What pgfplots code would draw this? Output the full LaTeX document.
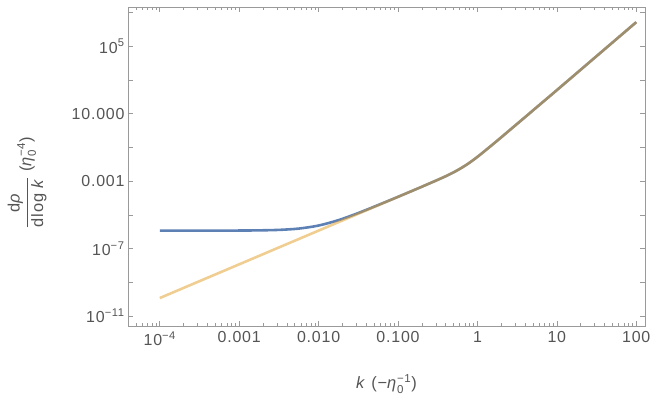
\documentclass[border=0pt]{standalone}
\usepackage{pgfplots}
\pgfplotsset{compat=1.18}
\usepackage{amsmath}
\usepackage{fontspec}
\setmainfont{Liberation Sans}
\newfontfamily\tickfont{Liberation Sans}[LetterSpace=5]
\definecolor{mblue}{HTML}{5E81B5}
\definecolor{morange}{HTML}{E19C24}
\definecolor{framegray}{HTML}{9A9A9A}
\definecolor{labelgray}{HTML}{555555}

% yellow: asymptotic curve, blue: full spectrum
\pgfplotstableread{
k        rho
1e-4     1.17e-10
3.16e-4  1.17e-9
1e-3     1.17e-8
3.16e-3  1.17e-7
1e-2     1.17e-6
3.16e-2  1.17e-5
1e-1     1.17e-4
1.78e-1  3.72e-4
2.37e-1  6.65e-4
3.16e-1  1.20e-3
4.22e-1  2.23e-3
5.62e-1  4.49e-3
7.50e-1  1.03e-2
1        2.77e-2
1.33     8.2e-2
1.78     0.254
2.37     0.796
3.16     2.51
4.22     7.94
5.62     25.1
10       251
31.6     2.6e4
100      2.7e6
}\yellowdata

\pgfplotstableread{
k        rho
1e-4     1.17e-6
3.16e-4  1.17e-6
1e-3     1.18e-6
1.78e-3  1.21e-6
3.16e-3  1.29e-6
5.62e-3  1.54e-6
1e-2     2.34e-6
1.78e-2  4.89e-6
3.16e-2  1.29e-5
5.62e-2  3.84e-5
1e-1     1.18e-4
1.78e-1  3.72e-4
2.37e-1  6.65e-4
3.16e-1  1.20e-3
4.22e-1  2.23e-3
5.62e-1  4.49e-3
7.50e-1  1.03e-2
1        2.77e-2
1.33     8.2e-2
1.78     0.254
2.37     0.796
3.16     2.51
4.22     7.94
5.62     25.1
10       251
31.6     2.6e4
100      2.7e6
}\bluedata

\begin{document}
\begin{tikzpicture}
\begin{axis}[
    name=ax,
    scale only axis,
    width=517bp, height=319bp,
    xmode=log, ymode=log,
    xmin=3.98e-5, xmax=128.8,
    ymin=2.57e-12, ymax=2.14e7,
    xtick={1e-4,1e-3,1e-2,1e-1,1,10,100},
    xticklabels={10\textsuperscript{−4},0.001,0.010,0.100,1,10,100},
    minor xtick={5e-5,6e-5,7e-5,8e-5,9e-5,
        2e-4,3e-4,4e-4,5e-4,6e-4,7e-4,8e-4,9e-4,
        2e-3,3e-3,4e-3,5e-3,6e-3,7e-3,8e-3,9e-3,
        2e-2,3e-2,4e-2,5e-2,6e-2,7e-2,8e-2,9e-2,
        0.2,0.3,0.4,0.5,0.6,0.7,0.8,0.9,
        2,3,4,5,6,7,8,9,
        20,30,40,50,60,70,80,90},
    ytick={1e-11,1e-9,1e-7,1e-5,1e-3,1e-1,1e1,1e3,1e5,1e7},
    yticklabels={10\textsuperscript{−11},,10\textsuperscript{−7},,0.001,,10.000,,10\textsuperscript{5},},
    axis line style={framegray, line width=0.8pt},
    every tick/.style={framegray, line width=0.7pt},
    major tick length=5bp, minor tick length=3bp,
    tick label style={font=\tickfont\fontsize{16}{18}\selectfont, text=labelgray},
    xticklabel style={yshift=-2bp},
    label style={font=\tickfont\fontsize{16.5}{19}\selectfont, text=labelgray},
    xlabel={\textit{k} (−\textit{η}$_{\text{0}}^{\text{−1}}$)},
    ylabel={$\dfrac{\text{d\textit{ρ}}}{\text{dlog \textit{k}}}$ (\textit{η}$_{\text{0}}^{\text{−4}}$)},
    xlabel style={at={(axis description cs:0.5,-0.182)}, anchor=center},
    ylabel style={at={(axis description cs:-0.195,0.45)}, anchor=center},
]
\addplot[mblue, line width=2.6pt, smooth] table[x=k, y=rho] {\bluedata};
\addplot[morange, opacity=0.5, line width=2.6pt, smooth] table[x=k, y=rho] {\yellowdata};
\end{axis}
\pgfresetboundingbox
\path[use as bounding box] ([xshift=-128bp,yshift=-72bp]ax.south west) rectangle ([xshift=9bp,yshift=7bp]ax.north east);
\end{tikzpicture}
\end{document}
